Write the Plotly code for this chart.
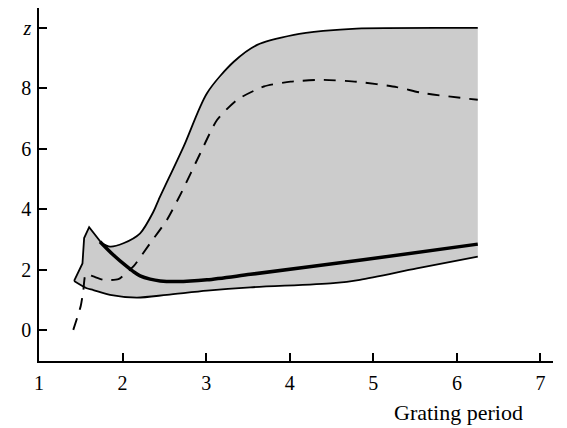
import plotly.graph_objects as go

# Data
spike_x = [1.42, 1.47, 1.52, 1.54, 1.60, 1.75]
spike_y = [1.62, 1.93, 2.20, 3.04, 3.40, 2.87]

upper_x = [1.75, 1.85, 2.01, 2.21, 2.37, 2.43, 2.73, 3.01, 3.33, 3.61, 4.05, 4.40, 4.80, 6.25]
upper_y = [2.87, 2.76, 2.87, 3.20, 3.92, 4.30, 6.07, 7.84, 8.88, 9.44, 9.77, 9.90, 9.98, 10.0]

thick_x = [1.73, 1.89, 2.05, 2.13, 2.21, 2.33, 2.45, 2.65, 3.01, 3.53, 4.88, 6.25]
thick_y = [2.92, 2.48, 2.10, 1.93, 1.79, 1.68, 1.62, 1.60, 1.66, 1.84, 2.32, 2.84]

lower_x = [1.42, 1.57, 1.65, 1.85, 2.17, 2.53, 3.01, 3.53, 4.52, 4.84, 5.52, 6.25]
lower_y = [1.62, 1.38, 1.32, 1.16, 1.07, 1.16, 1.30, 1.41, 1.55, 1.66, 2.04, 2.43]

dashed_x = [1.41, 1.50, 1.53, 1.56, 1.65, 1.77, 1.95, 2.07, 2.13, 2.33, 2.53, 2.71,
            2.93, 3.13, 3.37, 3.69, 4.01, 4.37, 4.80, 5.28, 5.60, 6.25]
dashed_y = [0.00, 0.80, 1.30, 1.85, 1.77, 1.66, 1.68, 1.95, 2.10, 2.87, 3.64, 4.58,
            5.85, 6.95, 7.62, 8.06, 8.22, 8.28, 8.22, 8.04, 7.84, 7.62]

x_ticks = [1, 2, 3, 4, 5, 6, 7]
y_ticks = [0, 2, 4, 6, 8, 10]
y_ticktext = ["0", "2", "4", "6", "8", "<i>z</i>"]

FONT = "Liberation Serif, Times New Roman, serif"

fig = go.Figure()

# Shaded region polygon
poly_x = spike_x + upper_x[1:] + lower_x[::-1]
poly_y = spike_y + upper_y[1:] + lower_y[::-1]
fig.add_trace(go.Scatter(x=poly_x, y=poly_y, fill="toself", fillcolor="#cccccc",
                         line=dict(width=0, color="#cccccc"), mode="lines",
                         hoverinfo="skip", showlegend=False))

fig.add_trace(go.Scatter(x=spike_x, y=spike_y, mode="lines",
                         line=dict(color="black", width=1.8), showlegend=False))
fig.add_trace(go.Scatter(x=upper_x, y=upper_y, mode="lines",
                         line=dict(color="black", width=1.8, shape="spline", smoothing=0.8),
                         showlegend=False))
fig.add_trace(go.Scatter(x=lower_x, y=lower_y, mode="lines",
                         line=dict(color="black", width=1.8, shape="spline", smoothing=0.8),
                         showlegend=False))
fig.add_trace(go.Scatter(x=thick_x, y=thick_y, mode="lines",
                         line=dict(color="black", width=3.5, shape="spline", smoothing=0.8),
                         showlegend=False))
fig.add_trace(go.Scatter(x=dashed_x, y=dashed_y, mode="lines",
                         line=dict(color="black", width=1.9, dash="12px,9px",
                                   shape="spline", smoothing=0.6),
                         showlegend=False))

fig.update_layout(
    width=559, height=420,
    margin=dict(l=31, r=14, t=0, b=67, autoexpand=False),
    paper_bgcolor="white", plot_bgcolor="white",
    font=dict(family=FONT, size=20, color="black"),
    xaxis=dict(range=[1, 7.15], tickvals=x_ticks, ticks="inside", ticklen=8,
               tickwidth=1.5, tickcolor="black", showline=True, linecolor="black",
               linewidth=1.6, showgrid=False, zeroline=False, ticklabelstandoff=3,
               automargin=False, tickfont=dict(family=FONT, size=20, color="black")),
    yaxis=dict(range=[-1.03, 10.66], tickvals=y_ticks, ticktext=y_ticktext,
               ticks="inside", ticklen=8, tickwidth=1.5, tickcolor="black",
               showline=True, linecolor="black", linewidth=1.6, showgrid=False,
               zeroline=False, ticklabelstandoff=2, automargin=False,
               tickfont=dict(family=FONT, size=20, color="black")),
    annotations=[dict(text="Grating period", xref="paper", yref="paper",
                      x=0.8157, y=-0.147, xanchor="center", yanchor="middle",
                      showarrow=False, font=dict(family=FONT, size=22, color="black"))],
)

fig.write_html("out.html")
